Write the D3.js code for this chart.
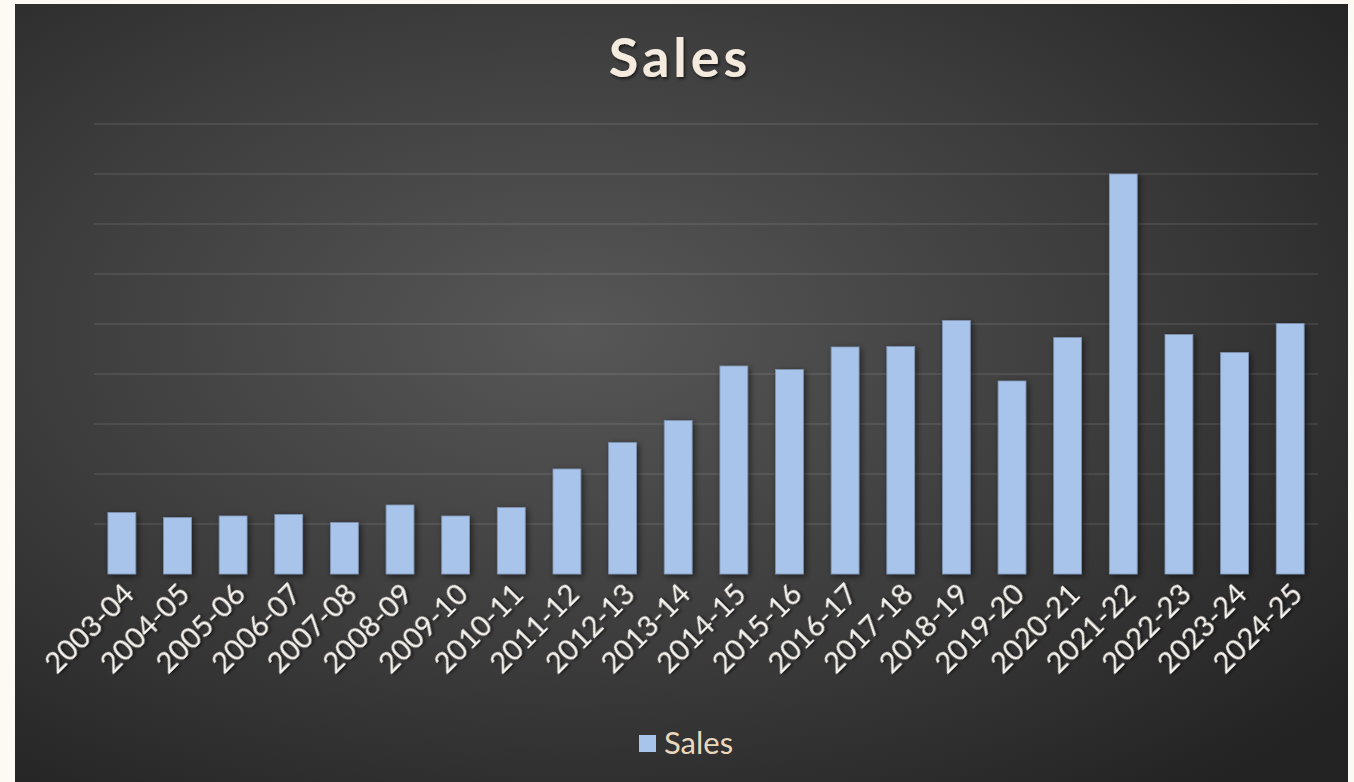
<!DOCTYPE html>
<html>
<head>
<meta charset="utf-8">
<script src="https://cdnjs.cloudflare.com/ajax/libs/d3/7.8.5/d3.min.js"></script>
<style>
  body{margin:0;background:#fdf9f3;}
  svg{display:block;}
</style>
</head>
<body>
<div id="chart"></div>
<script>
// chart data
var years=['2003-04','2004-05','2005-06','2006-07','2007-08','2008-09','2009-10','2010-11',
  '2011-12','2012-13','2013-14','2014-15','2015-16','2016-17','2017-18','2018-19',
  '2019-20','2020-21','2021-22','2022-23','2023-24','2024-25'];
var sales=[1230,1130,1160,1190,1030,1380,1160,1330,
  2100,2630,3070,4160,4090,4540,4550,5070,
  3860,4730,8000,4790,4430,5010];
var yTicks=[1000,2000,3000,4000,5000,6000,7000,8000,9000];
var seriesName='Sales';

var W=1354,H=782;
var svg=d3.select('#chart').append('svg')
  .attr('width',W).attr('height',H);

var defs=svg.append('defs');
var grad=defs.append('radialGradient')
  .attr('id','bg').attr('cx','0.42').attr('cy','0.42').attr('r','0.75');
grad.append('stop').attr('offset','0').attr('stop-color','#575757');
grad.append('stop').attr('offset','0.55').attr('stop-color','#3c3c3c');
grad.append('stop').attr('offset','1').attr('stop-color','#232323');

var shadow=defs.append('filter').attr('id','shadow')
  .attr('x','-30%').attr('y','-10%').attr('width','160%').attr('height','130%');
shadow.append('feDropShadow').attr('dx',2).attr('dy',2).attr('stdDeviation',3)
  .attr('flood-color','#000').attr('flood-opacity',0.55);

var tshadow=defs.append('filter').attr('id','tshadow')
  .attr('x','-10%').attr('y','-20%').attr('width','120%').attr('height','150%');
tshadow.append('feDropShadow').attr('dx',1.5).attr('dy',2).attr('stdDeviation',1.5)
  .attr('flood-color','#000').attr('flood-opacity',0.6);

// panel
svg.append('rect')
  .attr('x',15).attr('y',4).attr('width',1333).attr('height',H-4)
  .attr('fill','url(#bg)');

var margin={left:94,right:36,top:124,bottom:208};
var width=W-margin.left-margin.right;   // 1224
var height=H-margin.top-margin.bottom;  // 450
var g=svg.append('g')
  .attr('transform','translate('+margin.left+','+margin.top+')');

var x=d3.scaleBand()
  .domain(years)
  .range([0,width])
  .paddingInner(0.5)
  .paddingOuter(0.25);
var y=d3.scaleLinear()
  .domain([0,9000])
  .range([height,0]);

// gridlines
g.selectAll('.grid')
  .data(yTicks)
  .enter().append('line')
  .attr('class','grid')
  .attr('x1',0).attr('x2',width)
  .attr('y1',function(d){return y(d);})
  .attr('y2',function(d){return y(d);})
  .attr('stroke','#ffffff').attr('stroke-opacity',0.11)
  .attr('stroke-width',1.5);

// bars
g.selectAll('.bar')
  .data(sales)
  .enter().append('rect')
  .attr('class','bar')
  .attr('x',function(d,i){return x(years[i]);})
  .attr('y',function(d){return y(d);})
  .attr('width',x.bandwidth())
  .attr('height',function(d){return height-y(d);})
  .attr('fill','#a9c4ea')
  .attr('stroke','#7f95b3').attr('stroke-width',0.8)
  .attr('filter','url(#shadow)');

// x axis
var xAxis=d3.axisBottom(x).tickSize(0).tickPadding(0);
var xg=g.append('g')
  .attr('class','x-axis')
  .attr('transform','translate(0,'+height+')')
  .call(xAxis);
xg.select('.domain')
  .attr('stroke','#aaa59d').attr('stroke-width',2.5)
  .attr('filter','url(#shadow)');
xg.selectAll('text')
  .attr('fill','#f7f3ee')
  .style('font-family','Lato, "Open Sans", sans-serif')
  .style('font-size','29px')
  .attr('text-anchor','end')
  .attr('x',0).attr('y',0)
  .attr('dy','0.35em')
  .attr('transform','translate(7,15) rotate(-45)')
  .attr('filter','url(#tshadow)');

// title
svg.append('text')
  .attr('x',680).attr('y',77)
  .attr('text-anchor','middle')
  .attr('fill','#f4ebde')
  .style('font-family','Lato, "Open Sans", sans-serif')
  .style('font-weight','bold')
  .style('font-size','54px')
  .style('letter-spacing','4px')
  .attr('filter','url(#tshadow)')
  .text(seriesName);

// legend
var lg=svg.append('g').attr('transform','translate(639,735)');
lg.append('rect')
  .attr('width',17).attr('height',17)
  .attr('fill','#a9c4ea');
lg.append('text')
  .attr('x',25).attr('y',19)
  .attr('fill','#ead8bc')
  .style('font-family','Lato, "Open Sans", sans-serif')
  .style('font-size','31px')
  .text(seriesName);
</script>
</body>
</html>
